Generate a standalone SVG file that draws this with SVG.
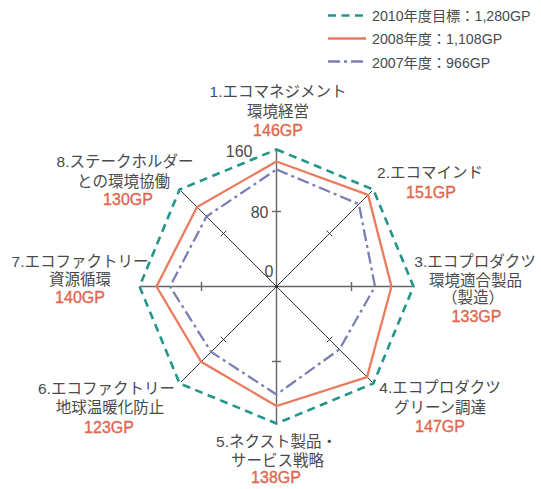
<svg xmlns="http://www.w3.org/2000/svg" width="541" height="489" viewBox="0 0 541 489">
<style>
text{font-family:"Liberation Sans","Noto Sans CJK JP",sans-serif;fill:#4a4a4a}
.lb{font-size:15.5px;text-anchor:middle}
.gp{font-size:16px;text-anchor:middle;fill:#e3664c;stroke:#e3664c;stroke-width:0.35}
.lg{font-size:14.2px}
.tk{font-size:16px;text-anchor:end}
.ax{stroke:#666;stroke-width:1.4;fill:none}
.dg{stroke:#222;stroke-width:0.9;fill:none}
.t2010{stroke:#22968a;stroke-width:2.6;fill:none;stroke-dasharray:8 5.5}
.t2008{stroke:#ec7a5e;stroke-width:2.3;fill:none;stroke-linejoin:miter}
.t2007{stroke:#7a80b3;stroke-width:2.3;fill:none;stroke-dasharray:12 4 3 4}
</style>
<rect width="541" height="489" fill="#fff"/>
<g id="legend">
<line class="t2010" x1="328" y1="15.5" x2="366" y2="15.5"/>
<text class="lg" x="372" y="20.5">2010年度目標：1,280GP</text>
<line class="t2008" x1="328" y1="38.5" x2="366" y2="38.5"/>
<text class="lg" x="372" y="44">2008年度：1,108GP</text>
<line class="t2007" x1="328" y1="61.5" x2="366" y2="61.5" stroke-dasharray="3 4 14 4"/>
<text class="lg" x="372" y="67.5">2007年度：966GP</text>
</g>
<g id="axes">
<line class="ax" x1="139.5" y1="286.5" x2="413.5" y2="286.5"/>
<line class="ax" x1="276.5" y1="149.5" x2="276.5" y2="423.5"/>
<line class="dg" x1="181" y1="191" x2="372" y2="382"/>
<line class="dg" x1="372" y1="191" x2="181" y2="382"/>
<line class="ax" x1="272" y1="211.5" x2="281" y2="211.5"/>
<line class="ax" x1="272" y1="361.5" x2="281" y2="361.5"/>
<line class="ax" x1="201.5" y1="282" x2="201.5" y2="291"/>
<line class="ax" x1="351.5" y1="282" x2="351.5" y2="291"/>
<line class="dg" x1="220.7" y1="236.3" x2="226.3" y2="230.7"/>
<line class="dg" x1="326.7" y1="342.3" x2="332.3" y2="336.7"/>
<line class="dg" x1="326.7" y1="230.7" x2="332.3" y2="236.3"/>
<line class="dg" x1="220.7" y1="336.7" x2="226.3" y2="342.3"/>
<circle cx="276.5" cy="286.5" r="1.8" fill="#333"/>
<text class="tk" x="252.5" y="156.5">160</text>
<text class="tk" x="268.5" y="217.5">80</text>
<text class="tk" x="273.5" y="277">0</text>
</g>
<g id="series">
<polygon class="t2010" points="276.5,149.5 373.4,189.6 413.5,286.5 373.4,383.4 276.5,423.5 179.6,383.4 139.5,286.5 179.6,189.6"/>
<polygon class="t2008" points="276.5,161.5 368.1,194.9 391.5,286.5 367,377 276.5,406 201.2,361.8 156.5,286.5 197,207"/>
<polygon class="t2007" points="276.5,169.5 358.9,204.1 375,286.5 339.4,349.4 276.5,394.5 211.1,351.9 170,286.5 206.5,216.5"/>
</g>
<g id="node1">
<text class="lb" x="278" y="97">1.エコマネジメント</text>
<text class="lb" x="278" y="116.5">環境経営</text>
<text class="gp" x="278" y="136">146GP</text>
</g>
<g id="node2">
<text class="lb" x="430" y="178">2.エコマインド</text>
<text class="gp" x="431" y="197.5">151GP</text>
</g>
<g id="node3">
<text class="lb" x="475" y="266.5">3.エコプロダクツ</text>
<text class="lb" x="475.5" y="285.5">環境適合製品</text>
<text class="lb" x="473" y="303">（製造）</text>
<text class="gp" x="476.5" y="322">133GP</text>
</g>
<g id="node4">
<text class="lb" x="440" y="393">4.エコプロダクツ</text>
<text class="lb" x="440" y="412.5">グリーン調達</text>
<text class="gp" x="440" y="431.5">147GP</text>
</g>
<g id="node5">
<text class="lb" x="276.5" y="446.5">5.ネクスト製品・</text>
<text class="lb" x="277.5" y="466">サービス戦略</text>
<text class="gp" x="276" y="483">138GP</text>
</g>
<g id="node6">
<text class="lb" x="106.5" y="394">6.エコファクトリー</text>
<text class="lb" x="110" y="413">地球温暖化防止</text>
<text class="gp" x="109" y="432.5">123GP</text>
</g>
<g id="node7">
<text class="lb" x="80" y="266.5">7.エコファクトリー</text>
<text class="lb" x="80" y="285">資源循環</text>
<text class="gp" x="80" y="303">140GP</text>
</g>
<g id="node8">
<text class="lb" x="125" y="167">8.ステークホルダー</text>
<text class="lb" x="123.5" y="186.5">との環境協働</text>
<text class="gp" x="128" y="205">130GP</text>
</g>
</svg>
